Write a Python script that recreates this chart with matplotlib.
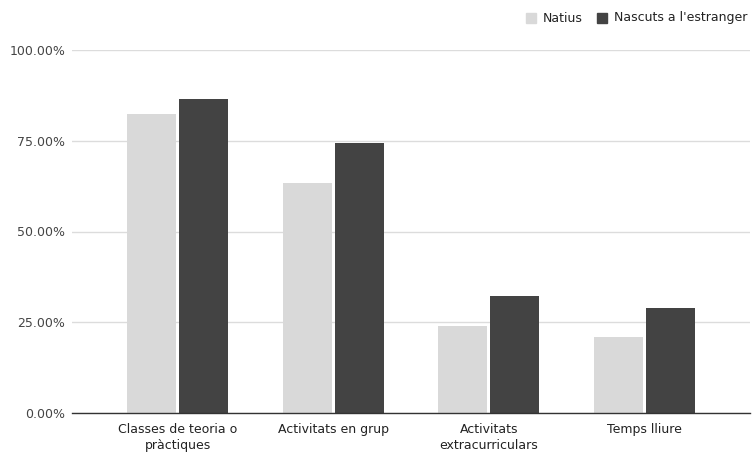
import matplotlib
matplotlib.use("Agg")
import matplotlib.pyplot as plt
import numpy as np
from matplotlib.ticker import FuncFormatter, FixedLocator
from matplotlib.patches import Rectangle

categories = ["Classes de teoria o\npràctiques", "Activitats en grup",
              "Activitats\nextracurriculars", "Temps lliure"]
natius = [82.4, 63.3, 24.0, 20.9]
nascuts = [86.4, 74.5, 32.3, 28.8]
series_names = ["Natius", "Nascuts a l'estranger"]
yticks = [0, 25, 50, 75, 100]

c_light = "#d9d9d9"
c_dark = "#434343"
text_c = "#444444"
fs = 9

plt.rcParams["font.family"] = ["DejaVu Sans"]

W, H = 752, 454
fig = plt.figure(figsize=(W / 100, H / 100), dpi=100)
ax = fig.add_axes([72 / W, (H - 413) / H, (750 - 72) / W, (413 - 50) / H])

x = np.arange(len(categories))
bw = 0.315
gap = 0.01
ax.bar(x - bw / 2 - gap, natius, width=bw, color=c_light, zorder=3)
ax.bar(x + bw / 2 + gap, nascuts, width=bw, color=c_dark, zorder=3)

ax.set_xlim(-0.68, 3.68)
ax.set_ylim(0, 100)
ax.yaxis.set_major_locator(FixedLocator(yticks))
ax.yaxis.set_major_formatter(FuncFormatter(lambda v, p: f"{v:.2f}%"))
ax.grid(axis="y", color="#dcdcdc", linewidth=1, zorder=0)
ax.set_xticks(x)
ax.set_xticklabels(categories, fontsize=fs, color="#222222", linespacing=1.3)
ax.tick_params(axis="both", length=0, labelsize=fs, colors=text_c)
ax.tick_params(axis="x", pad=7, colors="#222222")
ax.tick_params(axis="y", pad=5)
for s in ["top", "right", "left"]:
    ax.spines[s].set_visible(False)
ax.spines["bottom"].set_color("#333333")
ax.spines["bottom"].set_linewidth(1)
ax.spines["bottom"].set_zorder(4)

# legend drawn in figure pixel coordinates
def fx(px):
    return px / W

def fy(py):
    return (H - py) / H

sq = 10
for name, col, sx in [(series_names[0], c_light, 526), (series_names[1], c_dark, 597)]:
    fig.patches.append(Rectangle((fx(sx), fy(23)), sq / W, sq / H, color=col,
                                 transform=fig.transFigure, figure=fig))
    fig.text(fx(sx + 17), fy(18), name, fontsize=fs, color="#222222", va="center", ha="left")

fig.savefig("out.png", dpi=100, facecolor="white")
